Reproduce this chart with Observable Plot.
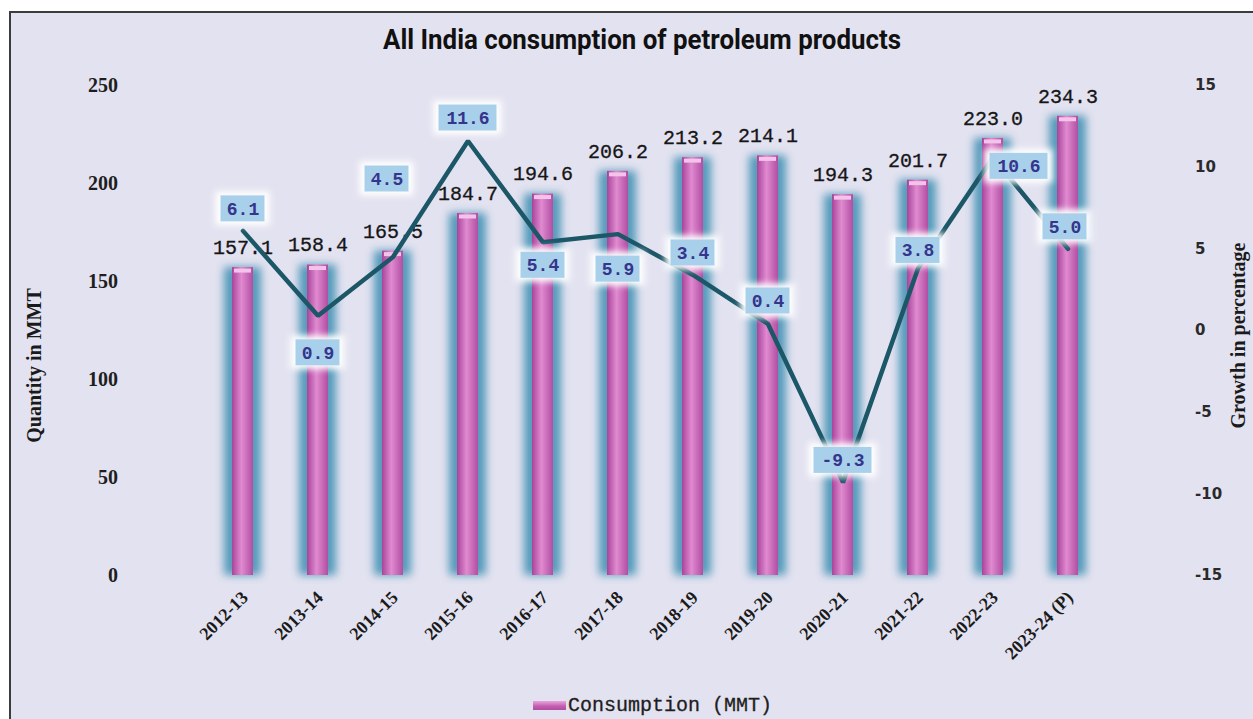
<!DOCTYPE html>
<html><head><meta charset="utf-8">
<script src="https://cdn.jsdelivr.net/npm/d3@7"></script>
<script src="https://cdn.jsdelivr.net/npm/@observablehq/plot@0.6"></script>
<style>
body{margin:0;background:#fff;}
#wrap{position:relative;width:1253px;height:719px;overflow:hidden;background:#fff;}
#panel{position:absolute;left:9px;top:11px;width:1244px;height:708px;background:#e3e2f0;border-left:2px solid #3c3c3c;border-top:2px solid #3c3c3c;box-sizing:border-box;}
#chart{position:absolute;left:0;top:0;}
#title{position:absolute;left:642px;top:26px;white-space:nowrap;font-family:Roboto,"Liberation Sans",sans-serif;font-weight:700;font-size:28px;line-height:28px;color:#111;transform-origin:center;}
#legend{position:absolute;left:533px;top:696px;white-space:nowrap;font-family:"Liberation Mono","DejaVu Sans Mono",monospace;font-size:20px;line-height:20px;color:#1e1e1e;-webkit-text-stroke:0.3px #1e1e1e;}
#legend .sw{display:inline-block;width:33px;height:9px;margin-right:2px;vertical-align:1px;background:linear-gradient(#e9a6dc,#c25cae 60%,#b24ea0);}
</style></head>
<body>
<div id="wrap">
  <div id="panel"></div>
  <div id="chart"></div>
  <div id="title">All India consumption of petroleum products</div>
  <div id="legend"><span class="sw"></span>Consumption (MMT)</div>
</div>
<script>
// ---- data ----
const years = ["2012-13","2013-14","2014-15","2015-16","2016-17","2017-18","2018-19","2019-20","2020-21","2021-22","2022-23","2023-24 (P)"];
const consumption = [157.1,158.4,165.5,184.7,194.6,206.2,213.2,214.1,194.3,201.7,223.0,234.3];
const growth = [6.1,0.9,4.5,11.6,5.4,5.9,3.4,0.4,-9.3,3.8,10.6,5.0];
const leftTicks = [0,50,100,150,200,250];
const rightTicks = [-15,-10,-5,0,5,10,15];
const leftDomain = [0,250];
const rightDomain = [-15,15];

// ---- layout of growth label boxes (pixel offsets from the line point) ----
const growthLabelDx = [0,0,-6,0,0,0,0,0,0,0,26,-3];
const growthLabelDy = [-22,37,-78,-23,23,35,-22,-23,-22,-18,9,-22];

// map growth (right axis) into left-axis units
const g2y = g => (g - rightDomain[0]) * (leftDomain[1]-leftDomain[0]) / (rightDomain[1]-rightDomain[0]) + leftDomain[0];
const y2g = y => (y - leftDomain[0]) * (rightDomain[1]-rightDomain[0]) / (leftDomain[1]-leftDomain[0]) + rightDomain[0];
const fmtG = g => { const r = Math.round(g); return r < 0 ? "-" + (-r) : String(r); };

const rows = years.map((year, i) => ({
  year, value: consumption[i], growth: growth[i], gy: g2y(growth[i]),
  label: (growth[i] < 0 ? "-" : "") + Math.abs(growth[i]).toFixed(1),
  i
}));

const BW = 75;            // band width in px
const PXU = 490 / 250;    // px per unit on y
const boxMarks = [];
rows.forEach(d => {
  const w = d.label.length > 3 ? 58 : 44;
  const inset = (BW - w) / 2;
  const hh = 13 / PXU;
  const dx = growthLabelDx[d.i], dy = growthLabelDy[d.i];
  boxMarks.push(Plot.barY([d], {x: "year", y1: r => r.gy - hh - 4/PXU, y2: r => r.gy + hh + 4/PXU, dx, dy,
    insetLeft: inset - 5, insetRight: inset - 5, fill: "#ffffff", ariaDescription: "whiteglow"}));
  boxMarks.push(Plot.barY([d], {x: "year", y1: r => r.gy - hh, y2: r => r.gy + hh, dx, dy,
    insetLeft: inset, insetRight: inset, fill: "#a8d0ea"}));
  boxMarks.push(Plot.text([d], {x: "year", y: "gy", text: "label", dx, dy,
    fontFamily: "Liberation Mono, DejaVu Sans Mono, monospace", fontWeight: "bold", fontSize: 18, fill: "#35358c"}));
});

const plot = Plot.plot({
  width: 1253, height: 719,
  marginTop: 85, marginBottom: 144, marginLeft: 204.5, marginRight: 148.5,
  style: {background: "transparent", overflow: "visible"},
  x: {type: "band", domain: years, padding: 0, label: null},
  y: {domain: leftDomain, label: null},
  marks: [
    Plot.barY(rows, {x: "year", y: "value", fill: "#3a8db0", insetLeft: 19, insetRight: 19, ariaDescription: "glow"}),
    Plot.barY(rows, {x: "year", y: "value", fill: "url(#barGrad)", insetLeft: 27, insetRight: 27}),
    Plot.tickY(rows, {x: "year", y: "value", stroke: "#f4c3ea", strokeWidth: 4, insetLeft: 29, insetRight: 29, dy: 3}),
    Plot.text(rows, {x: "year", y: "value", text: d => d.value.toFixed(1), dy: -20,
      fontFamily: "Liberation Mono, DejaVu Sans Mono, monospace", fontSize: 20, fill: "#161616", stroke: "#161616", strokeWidth: 0.3}),
    Plot.line(rows, {x: "year", y: "gy", stroke: "#1c5767", strokeWidth: 4.5, strokeLinejoin: "miter"}),
    ...boxMarks,
    Plot.axisY({ticks: leftTicks, tickSize: 0, tickPadding: 87, fontSize: 20, fontWeight: "bold",
      fontFamily: "Liberation Serif, serif", fill: "#1e1e1e"}),
    Plot.axisY({anchor: "right", ticks: rightTicks.map(g2y), tickFormat: y => fmtG(y2g(y)), tickSize: 0, tickPadding: 90,
      fontSize: 15, fontWeight: "bold", fontFamily: "DejaVu Sans, sans-serif", fill: "#2a2a2a"}),
    Plot.axisX({tickRotate: -45, tickSize: 0, tickPadding: 19, fontSize: 18, fontWeight: "bold",
      fontFamily: "Liberation Serif, serif", fill: "#1a1a1a", dx: 2}),
    Plot.text(["Quantity in MMT"], {frameAnchor: "left", textAnchor: "middle", rotate: -90, dx: -170, dy: 35, text: d => d,
      fontSize: 20, fontWeight: "bold", fontFamily: "Liberation Serif, serif", fill: "#1a1a1a"}),
    Plot.text(["Growth in percentage"], {frameAnchor: "right", textAnchor: "middle", rotate: -90, dx: 134, dy: 5, text: d => d,
      fontSize: 20, fontWeight: "bold", fontFamily: "Liberation Serif, serif", fill: "#1a1a1a"})
  ]
});

// defs: gradients and filters
const svg = d3.select(plot);
const defs = svg.insert("defs", ":first-child");
const lg = defs.append("linearGradient").attr("id", "barGrad").attr("x1", "0").attr("x2", "1").attr("y1", "0").attr("y2", "0");
lg.append("stop").attr("offset", "0%").attr("stop-color", "#a8449a");
lg.append("stop").attr("offset", "45%").attr("stop-color", "#e08ad0");
lg.append("stop").attr("offset", "100%").attr("stop-color", "#b14ea2");
const f1 = defs.append("filter").attr("id", "blurGlow").attr("x", "-60%").attr("y", "-10%").attr("width", "220%").attr("height", "120%");
f1.append("feGaussianBlur").attr("stdDeviation", 4.5);
const f2 = defs.append("filter").attr("id", "whiteGlow").attr("x", "-40%").attr("y", "-60%").attr("width", "180%").attr("height", "220%");
f2.append("feGaussianBlur").attr("stdDeviation", 3);
svg.selectAll('g[aria-description="glow"]').attr("filter", "url(#blurGlow)").attr("opacity", 0.85);
svg.selectAll('g[aria-description="whiteglow"]').attr("filter", "url(#whiteGlow)");

document.getElementById("chart").appendChild(plot);

// fit title width to the reference
const t = document.getElementById("title");
const tw = t.getBoundingClientRect().width;
t.style.transform = `translateX(-50%) scaleX(${518 / tw})`;
</script>
</body></html>
